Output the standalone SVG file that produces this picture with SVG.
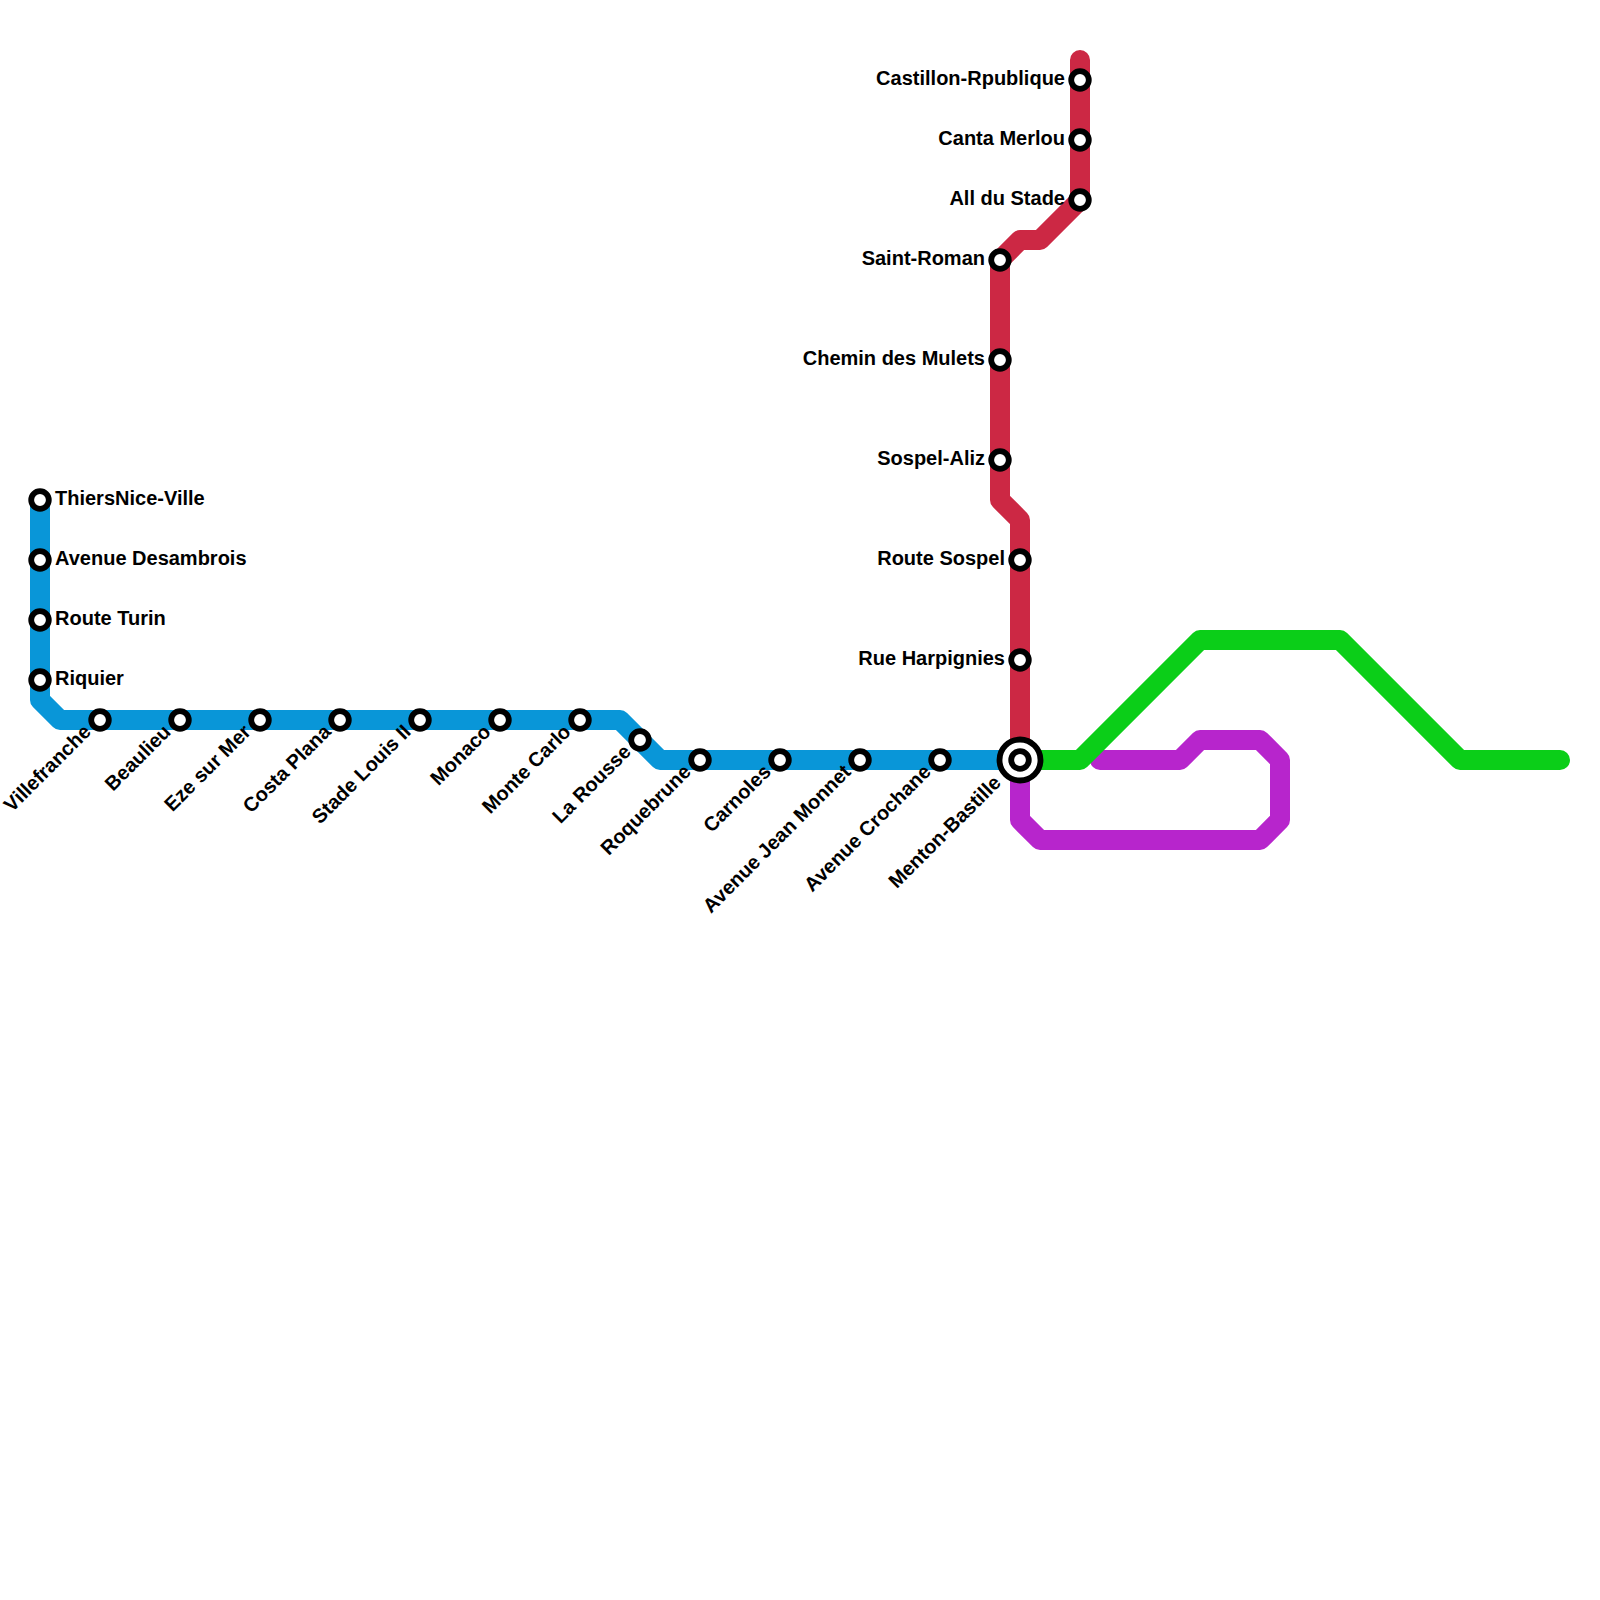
<svg xmlns="http://www.w3.org/2000/svg" width="1600" height="1600" viewBox="0 0 1600 1600">
<style>
.l{fill:none;stroke-width:20;stroke-linecap:round;stroke-linejoin:round}
.s{fill:#fff;stroke:#000;stroke-width:5.8}
text{font-family:"Liberation Sans",Arial,sans-serif;font-weight:700;font-size:20px;fill:#000}
.e{text-anchor:end}
</style>
<rect width="1600" height="1600" fill="#fff"/>
<g id="connectors">
<path class="l" stroke="#b725cc" d="M1020 760V820L1040 840H1260L1280 820V760L1260 740H1200L1180 760H1100"/>
<path class="l" stroke="#0bce18" d="M1020 760H1080L1200 640H1340L1460 760H1560"/>
<path class="l" stroke="#cc2844" d="M1080 60V200L1040 240H1020L1000 260V500L1020 520V760"/>
<path class="l" stroke="#0996d8" d="M40 500V700L60 720H620L660 760H1020"/>
</g>
<g id="n1"><circle class="s" cx="40" cy="500" r="8.8"/><text x="55" y="505">ThiersNice-Ville</text></g>
<g id="n2"><circle class="s" cx="40" cy="560" r="8.8"/><text x="55" y="565">Avenue Desambrois</text></g>
<g id="n3"><circle class="s" cx="40" cy="620" r="8.8"/><text x="55" y="625">Route Turin</text></g>
<g id="n4"><circle class="s" cx="40" cy="680" r="8.8"/><text x="55" y="685">Riquier</text></g>
<g id="n5"><circle class="s" cx="100" cy="720" r="8.8"/><text class="e" transform="translate(92 733) rotate(-45)">Villefranche</text></g>
<g id="n6"><circle class="s" cx="180" cy="720" r="8.8"/><text class="e" transform="translate(172 733) rotate(-45)">Beaulieu</text></g>
<g id="n7"><circle class="s" cx="260" cy="720" r="8.8"/><text class="e" transform="translate(252 733) rotate(-45)">Eze sur Mer</text></g>
<g id="n8"><circle class="s" cx="340" cy="720" r="8.8"/><text class="e" transform="translate(332 733) rotate(-45)">Costa Plana</text></g>
<g id="n9"><circle class="s" cx="420" cy="720" r="8.8"/><text class="e" transform="translate(412 733) rotate(-45)">Stade Louis II</text></g>
<g id="n10"><circle class="s" cx="500" cy="720" r="8.8"/><text class="e" transform="translate(492 733) rotate(-45)">Monaco</text></g>
<g id="n11"><circle class="s" cx="580" cy="720" r="8.8"/><text class="e" transform="translate(572 733) rotate(-45)">Monte Carlo</text></g>
<g id="n12"><circle class="s" cx="640" cy="740" r="8.8"/><text class="e" transform="translate(632 753) rotate(-45)">La Rousse</text></g>
<g id="n13"><circle class="s" cx="700" cy="760" r="8.8"/><text class="e" transform="translate(692 773) rotate(-45)">Roquebrune</text></g>
<g id="n14"><circle class="s" cx="780" cy="760" r="8.8"/><text class="e" transform="translate(772 773) rotate(-45)">Carnoles</text></g>
<g id="n15"><circle class="s" cx="860" cy="760" r="8.8"/><text class="e" transform="translate(852 773) rotate(-45)">Avenue Jean Monnet</text></g>
<g id="n16"><circle class="s" cx="940" cy="760" r="8.8"/><text class="e" transform="translate(932 773) rotate(-45)">Avenue Crochane</text></g>
<g id="n17"><circle class="s" cx="1020" cy="760" r="20.5"/><circle class="s" cx="1020" cy="760" r="8.8"/><text class="e" transform="translate(1002 784) rotate(-45)">Menton-Bastille</text></g>
<g id="n18"><circle class="s" cx="1020" cy="660" r="8.8"/><text class="e" x="1005" y="665">Rue Harpignies</text></g>
<g id="n19"><circle class="s" cx="1020" cy="560" r="8.8"/><text class="e" x="1005" y="565">Route Sospel</text></g>
<g id="n20"><circle class="s" cx="1000" cy="460" r="8.8"/><text class="e" x="985" y="465">Sospel-Aliz</text></g>
<g id="n21"><circle class="s" cx="1000" cy="360" r="8.8"/><text class="e" x="985" y="365">Chemin des Mulets</text></g>
<g id="n22"><circle class="s" cx="1000" cy="260" r="8.8"/><text class="e" x="985" y="265">Saint-Roman</text></g>
<g id="n23"><circle class="s" cx="1080" cy="200" r="8.8"/><text class="e" x="1065" y="205">All du Stade</text></g>
<g id="n24"><circle class="s" cx="1080" cy="140" r="8.8"/><text class="e" x="1065" y="145">Canta Merlou</text></g>
<g id="n25"><circle class="s" cx="1080" cy="80" r="8.8"/><text class="e" x="1065" y="85">Castillon-Rpublique</text></g>
</svg>
